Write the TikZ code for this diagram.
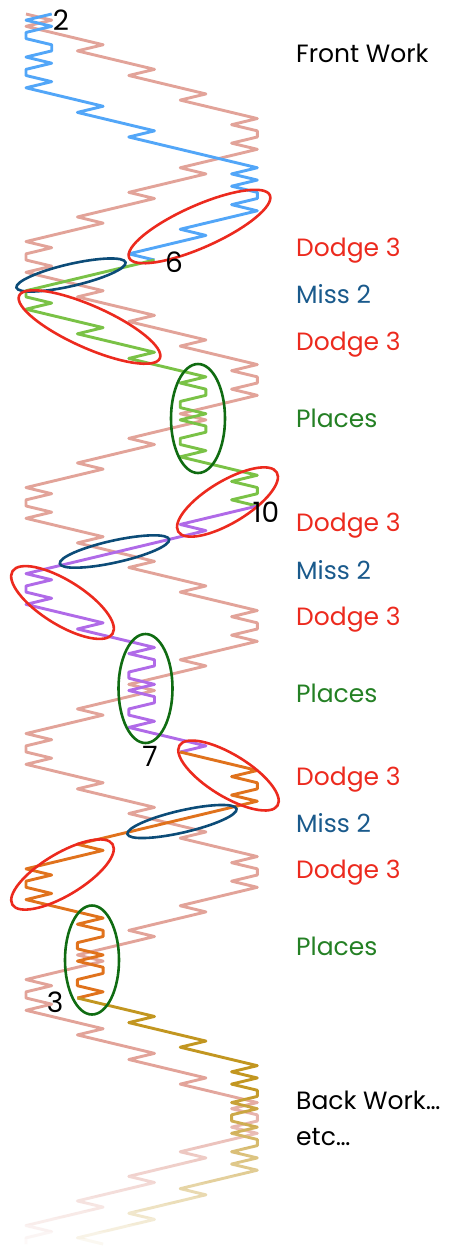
\documentclass[tikz,border=0pt]{standalone}
\usepackage{fontspec}
\setmainfont{Poppins}
\usetikzlibrary{shapes.geometric}

\definecolor{colTreble}{RGB}{226,163,153}
\definecolor{colLeadA}{RGB}{82,166,248}
\definecolor{colLeadB}{RGB}{122,194,70}
\definecolor{colLeadC}{RGB}{176,106,232}
\definecolor{colLeadD}{RGB}{224,114,28}
\definecolor{colLeadE}{RGB}{194,150,32}
\definecolor{colDodge}{RGB}{236,42,30}
\definecolor{colMiss}{RGB}{12,76,120}
\definecolor{colPlace}{RGB}{16,108,18}
\definecolor{colMissT}{RGB}{26,90,140}
\definecolor{colPlaceT}{RGB}{36,128,36}

\begin{document}
\begin{tikzpicture}[x=1pt, y=-1pt,
  work/.style = {line width=2.9pt, line join=round},
  treble/.style = {line width=2.9pt, line join=round, draw=colTreble},
  ring/.style = {ellipse, draw, line width=2.6pt, inner sep=0pt},
  dodge/.style = {ring, draw=colDodge},
  miss/.style = {ring, draw=colMiss, minimum width=112pt, minimum height=22pt},
  places/.style = {ring, draw=colPlace, minimum width=54pt, minimum height=109pt},
  worktext/.style = {anchor=base west, inner sep=0pt, font=\fontsize{25}{30}\selectfont},
  bell/.style = {inner sep=0pt, font=\fontsize{28}{32}\selectfont}]
  \useasboundingbox (0,0) rectangle (450,1259);

  % treble bob hunting
  \draw[treble] (26,14) \foreach \l in {0,...,4} {\foreach \p [count=\r from 1] in {2,1,2,3,4,3,4,5,6,5,6,7,8,7,8,9,10,9,10,10,9,10,9,8,7,8,7,6,5,6,5,4,3,4,3,2,1,2,1,1} {-- ({26+(\p-1)*25.7},{14+6.15*(\r+40*\l)})}};

  % the working bell, one colour per lead
  \draw[work, colLeadA] (51.7,14) \foreach \p [count=\r from 1] in {1,2,1,1,2,2,1,2,1,1,2,1,2,3,4,3,4,5,6,5,6,7,8,9,10,9,10,9,10,10,9,10,9,8,7,8,7,6,5,6} {-- ({26+(\p-1)*25.7},{14+6.15*\r})};
  \draw[work, colLeadB] (154.5,260) \foreach \p [count=\r from 41] in {5,4,3,2,1,1,2,1,2,3,4,3,4,5,6,5,6,7,8,7,8,8,7,7,8,7,8,8,7,7,8,7,8,9,10,9,10,10,9,10} {-- ({26+(\p-1)*25.7},{14+6.15*\r})};
  \draw[work, colLeadC] (257.3,506) \foreach \p [count=\r from 81] in {9,8,7,8,7,6,5,4,3,2,1,2,1,1,2,1,2,3,4,3,4,5,6,5,6,6,5,5,6,5,6,6,5,5,6,5,6,7,8,7} {-- ({26+(\p-1)*25.7},{14+6.15*\r})};
  \draw[work, colLeadD] (180.2,752) \foreach \p [count=\r from 121] in {8,9,10,9,10,10,9,10,9,8,7,6,5,4,3,4,3,2,1,2,1,1,2,1,2,3,4,3,4,4,3,3,4,3,4,4,3,3,4,3} {-- ({26+(\p-1)*25.7},{14+6.15*\r})};
  \draw[work, colLeadE] (77.4,998) \foreach \p [count=\r from 161] in {4,5,6,5,6,7,8,7,8,9,10,9,10,9,10,10,9,10,9,9,10,9,10,10,9,10,9,10,9,8,7,8,7,6,5,6,5,4,3,4} {-- ({26+(\p-1)*25.7},{14+6.15*\r})};

  \node[dodge, minimum width=154pt, minimum height=42pt, rotate=24] (dodgeA) at (199.5,226.5) {};
  \node[miss, rotate=13] (missA) at (71,275) {};
  \node[dodge, minimum width=154pt, minimum height=42pt, rotate=-24] (dodgeB) at (89.5,327) {};
  \node[places] (placesA) at (198,418.5) {};

  \node[dodge, minimum width=115pt, minimum height=42pt, rotate=31] (dodgeC) at (227.5,502) {};
  \node[miss, rotate=12.5] (missB) at (114.5,551.5) {};
  \node[dodge, minimum width=118pt, minimum height=44pt, rotate=-32] (dodgeD) at (62.5,602.5) {};
  \node[places] (placesB) at (145.5,688.5) {};

  \node[dodge, minimum width=115pt, minimum height=42pt, rotate=-31.5] (dodgeE) at (228.5,775.5) {};
  \node[miss, rotate=13] (missC) at (182,821.5) {};
  \node[dodge, minimum width=117pt, minimum height=42pt, rotate=31] (dodgeF) at (62.5,874.5) {};
  \node[places] (placesC) at (92,960) {};

  \node[bell] (bellA) at (61,20) {2};
  \node[bell] (bellB) at (174,262) {6};
  \node[bell] (bellC) at (266,512) {10};
  \node[bell] (bellD) at (150,756) {7};
  \node[bell] (bellE) at (55,1002) {3};

  % fade out the last lead
  \foreach \i [evaluate=\i as \op using (\i+0.5)/24] in {0,...,23}
    \fill[white, opacity=\op] (8,{1085+7*\i}) rectangle (286,{1092+7*\i});
  \fill[white] (8,1253) rectangle (286,1259);

  \node[worktext] (front) at (296,62.7) {Front Work};
  \node[worktext, colDodge] (dodgeTa) at (296,256) {Dodge 3};
  \node[worktext, colMissT] (missTa) at (296,303.3) {Miss 2};
  \node[worktext, colDodge] (dodgeTb) at (296,350) {Dodge 3};
  \node[worktext, colPlaceT] (placesTa) at (296,427.3) {Places};
  \node[worktext, colDodge] (dodgeTc) at (296,531.7) {Dodge 3};
  \node[worktext, colMissT] (missTb) at (296,579.3) {Miss 2};
  \node[worktext, colDodge] (dodgeTd) at (296,625) {Dodge 3};
  \node[worktext, colPlaceT] (placesTb) at (296,702.7) {Places};
  \node[worktext, colDodge] (dodgeTe) at (296,785) {Dodge 3};
  \node[worktext, colMissT] (missTc) at (296,832.7) {Miss 2};
  \node[worktext, colDodge] (dodgeTf) at (296,878.3) {Dodge 3};
  \node[worktext, colPlaceT] (placesTc) at (296,955) {Places};
  \node[worktext] (back) at (296,1109.3) {Back Work…};
  \node[worktext] (etc) at (296,1145) {etc…};
\end{tikzpicture}
\end{document}
